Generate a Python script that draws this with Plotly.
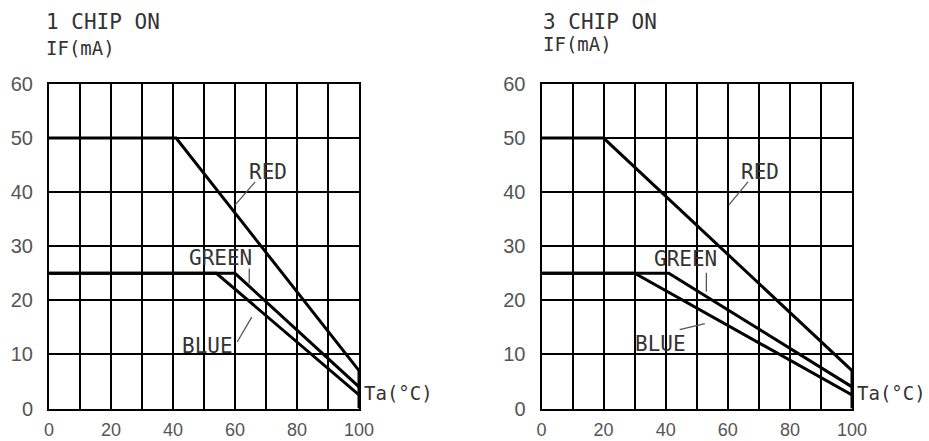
import plotly.graph_objects as go

W, H = 929, 441

# ---- data ----
ta_red_1 = [0, 41, 100, 100]
if_red_1 = [50, 50, 7, 0]
ta_green_1 = [0, 60, 100]
if_green_1 = [25, 25, 4]
ta_blue_1 = [0, 54, 100]
if_blue_1 = [25, 25, 2.5]

ta_red_3 = [0, 20, 100, 100]
if_red_3 = [50, 50, 7, 0]
ta_green_3 = [0, 41, 100]
if_green_3 = [25, 25, 4]
ta_blue_3 = [0, 30, 100]
if_blue_3 = [25, 25, 2.5]

x_ticks = [0, 20, 40, 60, 80, 100]
y_ticks = [0, 10, 20, 30, 40, 50, 60]

titles = ["1 CHIP ON", "3 CHIP ON"]
y_title = "IF(mA)"
x_title = "Ta(°C)"

# curve labels: (text, x, y) in data units
labels_1 = [("RED", 70.5, 43.8), ("GREEN", 55.2, 27.8), ("BLUE", 51.1, 11.6)]
labels_3 = [("RED", 70.3, 43.8), ("GREEN", 46.4, 27.6), ("BLUE", 38.3, 11.9)]

# leader lines (x pairs, y pairs) in data units
leaders_1 = [((66.5, 60.0), (41.9, 37.6)), ((64.6, 64.6), (25.9, 23.1)), ((65.4, 60.7), (16.9, 12.3))]
leaders_3 = [((66.5, 60.3), (41.9, 37.6)), ((53.1, 53.1), (25.1, 21.6)), ((52.6, 44.5), (15.7, 14.6))]

# ---- figure ----
fig = go.Figure()
LINE_W = 3
TXT = "#333333"
MONO = "DejaVu Sans Mono"

panels = [
    ("x", "y", [(ta_red_1, if_red_1), (ta_green_1, if_green_1), (ta_blue_1, if_blue_1)], labels_1, leaders_1),
    ("x2", "y2", [(ta_red_3, if_red_3), (ta_green_3, if_green_3), (ta_blue_3, if_blue_3)], labels_3, leaders_3),
]

annotations = []
for xa, ya, curves, labs, leads in panels:
    for xs, ys in curves:
        fig.add_trace(go.Scatter(x=xs, y=ys, mode="lines", xaxis=xa, yaxis=ya,
                                 line=dict(color="black", width=LINE_W), cliponaxis=False,
                                 showlegend=False, hoverinfo="skip"))
    lx, ly = [], []
    for (x0, x1), (y0, y1) in leads:
        lx += [x0, x1, None]
        ly += [y0, y1, None]
    fig.add_trace(go.Scatter(x=lx, y=ly, mode="lines", xaxis=xa, yaxis=ya,
                             line=dict(color="#555555", width=1.3),
                             showlegend=False, hoverinfo="skip"))
    for t, x, y in labs:
        annotations.append(dict(text=t, x=x, y=y, xref=xa, yref=ya, showarrow=False,
                                xanchor="center", yanchor="middle",
                                font=dict(family=MONO, size=21, color=TXT)))
    annotations.append(dict(text=x_title, x=100, y=2.8, xref=xa, yref=ya, showarrow=False,
                            xanchor="left", yanchor="middle", xshift=3,
                            font=dict(family=MONO, size=19, color=TXT)))

# titles
for px, ty, iy, t in [(44, 22.5, 48, titles[0]), (541, 22, 43.5, titles[1])]:
    annotations.append(dict(text=t, x=px / W, y=1 - ty / H, xref="paper", yref="paper",
                            showarrow=False, xanchor="left", yanchor="middle",
                            font=dict(family=MONO, size=21, color=TXT)))
    annotations.append(dict(text=y_title, x=px / W, y=1 - iy / H, xref="paper", yref="paper",
                            showarrow=False, xanchor="left", yanchor="middle",
                            font=dict(family=MONO, size=19, color=TXT)))

ydom = [(H - 408.5) / H, (H - 84) / H]
common_x = dict(range=[0, 100], tickvals=x_ticks, showgrid=True, gridcolor="black", gridwidth=1.6,
                minor=dict(dtick=10, showgrid=True, gridcolor="black", gridwidth=1.6),
                showline=True, linecolor="black", linewidth=2, mirror=True, zeroline=False,
                ticks="outside", ticklen=4, tickcolor="rgba(0,0,0,0)",
                tickfont=dict(family="Liberation Sans", size=18, color="#555555"),
                automargin=False, fixedrange=True)
common_y = dict(range=[0, 60], tickvals=y_ticks, showgrid=True, gridcolor="black", gridwidth=1.6,
                showline=True, linecolor="black", linewidth=2, mirror=True, zeroline=False,
                ticks="outside", ticklen=10, tickcolor="rgba(0,0,0,0)",
                tickfont=dict(family="Liberation Sans", size=20, color="#555555"),
                domain=ydom, automargin=False, fixedrange=True)

fig.update_layout(
    width=W, height=H, autosize=False,
    margin=dict(l=0, r=0, t=0, b=0, pad=0),
    paper_bgcolor="white", plot_bgcolor="white",
    xaxis=dict(common_x, domain=[49 / W, 359 / W], anchor="y"),
    yaxis=dict(common_y, anchor="x"),
    xaxis2=dict(common_x, domain=[541.5 / W, 852 / W], anchor="y2"),
    yaxis2=dict(common_y, anchor="x2"),
    annotations=annotations,
    showlegend=False,
)

fig.write_html("out.html", config={"displayModeBar": False},
               post_script="document.body.style.margin='0';document.body.style.overflow='hidden';")
